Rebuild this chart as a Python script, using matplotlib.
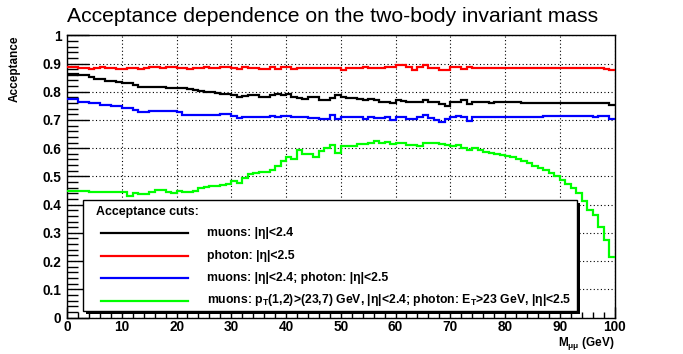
import numpy as np
import matplotlib
matplotlib.use("Agg")
import matplotlib.pyplot as plt
from matplotlib.patches import Rectangle
from matplotlib.lines import Line2D
from matplotlib.ticker import MultipleLocator, FuncFormatter

plt.rcParams['font.family'] = ['Liberation Sans', 'DejaVu Sans']
plt.rcParams['mathtext.fontset'] = 'custom'
plt.rcParams['mathtext.rm'] = 'Liberation Sans:bold'
plt.rcParams['mathtext.it'] = 'Liberation Sans:bold'
plt.rcParams['mathtext.bf'] = 'Liberation Sans:bold'
plt.rcParams['mathtext.default'] = 'rm'

# ---------------- data ----------------
bin_edges = np.linspace(0, 100, 101)

muons_eta = [
    0.8635, 0.8635, 0.858, 0.858, 0.852, 0.846, 0.846, 0.839, 0.839, 0.834,
    0.830, 0.830, 0.824, 0.818, 0.816, 0.816, 0.818, 0.818, 0.815, 0.812,
    0.812, 0.812, 0.810, 0.805, 0.803, 0.799, 0.799, 0.795, 0.793, 0.793,
    0.789, 0.780, 0.786, 0.787, 0.787, 0.783, 0.783, 0.787, 0.791, 0.787,
    0.791, 0.783, 0.777, 0.775, 0.780, 0.783, 0.771, 0.771, 0.777, 0.787,
    0.780, 0.777, 0.777, 0.775, 0.769, 0.775, 0.771, 0.765, 0.765, 0.760,
    0.771, 0.768, 0.762, 0.765, 0.765, 0.771, 0.765, 0.762, 0.756, 0.751,
    0.763, 0.765, 0.771, 0.756, 0.765, 0.765, 0.763, 0.760, 0.763, 0.763,
    0.763, 0.763, 0.763, 0.760, 0.760, 0.760, 0.760, 0.760, 0.761, 0.761,
    0.761, 0.761, 0.761, 0.760, 0.760, 0.760, 0.760, 0.759, 0.759, 0.754,
]

photon_eta = [
    0.886, 0.886, 0.883, 0.883, 0.881, 0.883, 0.886, 0.883, 0.883, 0.881,
    0.881, 0.883, 0.883, 0.881, 0.883, 0.886, 0.886, 0.883, 0.886, 0.889,
    0.883, 0.883, 0.881, 0.883, 0.883, 0.886, 0.883, 0.883, 0.886, 0.886,
    0.883, 0.881, 0.886, 0.883, 0.883, 0.881, 0.881, 0.889, 0.881, 0.886,
    0.886, 0.881, 0.883, 0.883, 0.883, 0.883, 0.883, 0.883, 0.883, 0.883,
    0.878, 0.883, 0.883, 0.883, 0.889, 0.883, 0.883, 0.883, 0.889, 0.886,
    0.895, 0.895, 0.889, 0.878, 0.889, 0.895, 0.883, 0.883, 0.878, 0.878,
    0.889, 0.886, 0.881, 0.886, 0.883, 0.883, 0.883, 0.883, 0.883, 0.883,
    0.883, 0.883, 0.883, 0.883, 0.883, 0.883, 0.883, 0.883, 0.883, 0.883,
    0.883, 0.883, 0.883, 0.883, 0.883, 0.883, 0.883, 0.883, 0.881, 0.878,
]

both_eta = [
    0.774, 0.774, 0.765, 0.765, 0.760, 0.760, 0.754, 0.754, 0.748, 0.748,
    0.742, 0.742, 0.736, 0.728, 0.728, 0.732, 0.732, 0.732, 0.732, 0.732,
    0.728, 0.718, 0.718, 0.718, 0.718, 0.716, 0.716, 0.718, 0.720, 0.720,
    0.714, 0.706, 0.712, 0.712, 0.712, 0.709, 0.709, 0.715, 0.712, 0.715,
    0.715, 0.709, 0.712, 0.712, 0.706, 0.706, 0.704, 0.704, 0.718, 0.704,
    0.712, 0.709, 0.712, 0.712, 0.704, 0.712, 0.706, 0.706, 0.712, 0.700,
    0.712, 0.709, 0.704, 0.704, 0.712, 0.718, 0.706, 0.700, 0.692, 0.704,
    0.712, 0.715, 0.709, 0.697, 0.712, 0.709, 0.709, 0.709, 0.711, 0.711,
    0.711, 0.711, 0.711, 0.711, 0.711, 0.711, 0.711, 0.713, 0.713, 0.713,
    0.713, 0.713, 0.713, 0.713, 0.715, 0.713, 0.712, 0.713, 0.715, 0.704,
]

full_cuts = [
    0.449, 0.448, 0.447, 0.447, 0.446, 0.446, 0.446, 0.445, 0.445, 0.444,
    0.443, 0.431, 0.440, 0.438, 0.438, 0.446, 0.452, 0.452, 0.446, 0.440,
    0.450, 0.446, 0.446, 0.450, 0.458, 0.464, 0.466, 0.466, 0.470, 0.473,
    0.482, 0.476, 0.494, 0.509, 0.511, 0.514, 0.517, 0.521, 0.537, 0.553,
    0.570, 0.561, 0.594, 0.578, 0.578, 0.570, 0.590, 0.600, 0.612, 0.584,
    0.606, 0.609, 0.608, 0.614, 0.614, 0.620, 0.626, 0.617, 0.623, 0.615,
    0.617, 0.617, 0.612, 0.612, 0.608, 0.617, 0.620, 0.617, 0.615, 0.612,
    0.608, 0.612, 0.600, 0.592, 0.600, 0.594, 0.588, 0.584, 0.580, 0.576,
    0.573, 0.568, 0.561, 0.553, 0.547, 0.537, 0.529, 0.521, 0.511, 0.502,
    0.488, 0.473, 0.458, 0.440, 0.414, 0.381, 0.363, 0.320, 0.275, 0.216,
]

series_labels = [
    "muons: |η|<2.4",
    "photon: |η|<2.5",
    "muons: |η|<2.4; photon: |η|<2.5",
    "muons: p$_{T}$(1,2)>(23,7) GeV, |η|<2.4; photon: E$_{T}$>23 GeV, |η|<2.5",
]
series_values = [muons_eta, photon_eta, both_eta, full_cuts]
series_colors = ["#000000", "#ff0000", "#0000ff", "#00ff00"]

title = "Acceptance dependence on the two-body invariant mass"
legend_header = "Acceptance cuts:"

# ---------------- figure ----------------
W, H = 683, 354
fig = plt.figure(figsize=(W / 100, H / 100), dpi=100)
fig.patch.set_facecolor("white")

def fx(px):
    return px / W

def fy(py):
    return 1 - py / H

ax_l, ax_r, ax_t, ax_b = 67, 614.5, 35.3, 317.5
ax = fig.add_axes([fx(ax_l), fy(ax_b), fx(ax_r) - fx(ax_l), fy(ax_t) - fy(ax_b)])
ax.set_xlim(0, 100)
ax.set_ylim(0, 1)

for vals, col in zip(series_values, series_colors):
    ax.stairs(vals, bin_edges, baseline=None, color=col, lw=1.6, zorder=3)

ax.xaxis.set_major_locator(MultipleLocator(10))
ax.xaxis.set_minor_locator(MultipleLocator(2))
ax.yaxis.set_major_locator(MultipleLocator(0.1))
ax.yaxis.set_minor_locator(MultipleLocator(0.02))

def yfmt(v, pos):
    if abs(v) < 1e-9:
        return "0"
    if abs(v - 1) < 1e-9:
        return "1"
    return "%.1f" % v

ax.yaxis.set_major_formatter(FuncFormatter(yfmt))
ax.xaxis.set_major_formatter(FuncFormatter(lambda v, p: "%d" % round(v)))

ax.tick_params(axis="y", which="major", direction="in", length=16, width=1.0, pad=4,
               labelsize=9.8)
ax.tick_params(axis="y", which="minor", direction="in", length=8, width=1.0)
ax.tick_params(axis="x", which="major", direction="in", length=8, width=1.0, pad=2,
               labelsize=9.8)
ax.tick_params(axis="x", which="minor", direction="in", length=4, width=1.0)
for lab in ax.get_xticklabels() + ax.get_yticklabels():
    lab.set_fontweight("bold")

ax.grid(True, which="major", color="black", linestyle=(0, (1, 2.2)), lw=0.8, zorder=1)
for sp in ax.spines.values():
    sp.set_color("black")
    sp.set_linewidth(1.0)

# title and axis titles
fig.text(fx(332.5), fy(16), title, ha="center", va="center", fontsize=15.2)
fig.text(fx(15), fy(35), "Acceptance", rotation=90, ha="center", va="top",
         fontsize=8.5, fontweight="bold")
fig.text(fx(614), fy(335), "M$_{μμ}$ (GeV)", ha="right", va="top",
         fontsize=8.5, fontweight="bold")

# legend box (with shadow)
lx0, lx1, ly0, ly1 = 83, 577, 200, 311
shadow = Rectangle((fx(lx0) + fx(2.5), fy(ly1) - 2.5 / H), fx(lx1) - fx(lx0),
                   fy(ly0) - fy(ly1), transform=fig.transFigure,
                   facecolor="black", edgecolor="black", lw=0, zorder=5)
box = Rectangle((fx(lx0), fy(ly1)), fx(lx1) - fx(lx0), fy(ly0) - fy(ly1),
                transform=fig.transFigure, facecolor="white", edgecolor="black",
                lw=1.0, zorder=6)
fig.add_artist(shadow)
fig.add_artist(box)

fig.text(fx(96), fy(212), legend_header, ha="left", va="center", fontsize=8.9,
         fontweight="bold", zorder=7)
entry_y = [233, 255.5, 277.5, 300.5]
for yy, lab, col in zip(entry_y, series_labels, series_colors):
    fig.add_artist(Line2D([fx(101), fx(188)], [fy(yy), fy(yy)], color=col, lw=1.6,
                          transform=fig.transFigure, zorder=7))
    fig.text(fx(206.5), fy(yy), lab, ha="left", va="center", fontsize=8.8,
             fontweight="bold", zorder=7)

fig.savefig("out.png", dpi=100, facecolor="white")
